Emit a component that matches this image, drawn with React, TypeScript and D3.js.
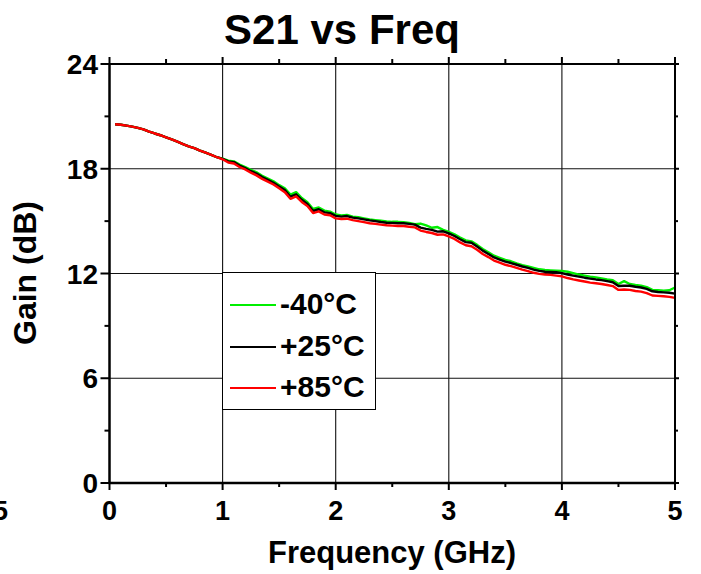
import * as d3 from 'd3';

const freqs = [
  0.05, 0.1, 0.15, 0.2, 0.25, 0.3, 0.35, 0.4, 0.45, 0.5,
  0.55, 0.6, 0.65, 0.7, 0.75, 0.8, 0.85, 0.9, 0.95, 1.0,
  1.05, 1.1, 1.15, 1.2, 1.25, 1.3, 1.35, 1.4, 1.45, 1.5,
  1.55, 1.6, 1.65, 1.7, 1.75, 1.8, 1.85, 1.9, 1.95, 2.0,
  2.05, 2.1, 2.15, 2.2, 2.25, 2.3, 2.35, 2.4, 2.45, 2.5,
  2.55, 2.6, 2.65, 2.7, 2.75, 2.8, 2.85, 2.9, 2.95, 3.0,
  3.05, 3.1, 3.15, 3.2, 3.25, 3.3, 3.35, 3.4, 3.45, 3.5,
  3.55, 3.6, 3.65, 3.7, 3.75, 3.8, 3.85, 3.9, 3.95, 4.0,
  4.05, 4.1, 4.15, 4.2, 4.25, 4.3, 4.35, 4.4, 4.45, 4.5,
  4.55, 4.6, 4.65, 4.7, 4.75, 4.8, 4.85, 4.9, 4.95, 5.0,
];

const gainM40 = [
  20.55, 20.52, 20.47, 20.41, 20.34, 20.26, 20.13, 20.02, 19.92, 19.8,
  19.68, 19.55, 19.41, 19.28, 19.18, 19.04, 18.92, 18.8, 18.66, 18.58,
  18.46, 18.42, 18.24, 18.1, 17.94, 17.8, 17.6, 17.44, 17.28, 17.06,
  16.88, 16.52, 16.66, 16.32, 16.08, 15.7, 15.78, 15.6, 15.54, 15.38,
  15.32, 15.36, 15.26, 15.22, 15.16, 15.1, 15.06, 15.02, 14.98, 14.96,
  14.96, 14.94, 14.9, 14.82, 14.86, 14.76, 14.62, 14.66, 14.5, 14.38,
  14.24, 14.06, 13.9, 13.84, 13.64, 13.4, 13.22, 13.02, 12.9, 12.78,
  12.7, 12.58, 12.48, 12.4, 12.32, 12.24, 12.2, 12.18, 12.16, 12.14,
  12.1, 12.02, 11.94, 11.88, 11.82, 11.78, 11.72, 11.66, 11.62, 11.4,
  11.56, 11.4, 11.34, 11.3, 11.22, 11.06, 11.04, 11.02, 11.04, 11.2,
];

const gain25 = [
  20.55, 20.52, 20.47, 20.41, 20.34, 20.26, 20.13, 20.02, 19.92, 19.8,
  19.68, 19.55, 19.41, 19.28, 19.18, 19.04, 18.92, 18.8, 18.66, 18.56,
  18.42, 18.38, 18.18, 18.04, 17.86, 17.72, 17.52, 17.36, 17.2, 16.98,
  16.78, 16.4, 16.54, 16.22, 15.98, 15.58, 15.68, 15.5, 15.46, 15.3,
  15.26, 15.29, 15.2, 15.16, 15.1, 15.04, 15.0, 14.95, 14.91, 14.9,
  14.88, 14.88, 14.84, 14.8, 14.63, 14.56, 14.5, 14.4, 14.42, 14.3,
  14.15, 13.96, 13.8, 13.76, 13.55, 13.31, 13.12, 12.92, 12.8, 12.68,
  12.6, 12.5, 12.4, 12.32, 12.22, 12.15, 12.1, 12.09, 12.07, 12.02,
  11.94, 11.88, 11.82, 11.76, 11.71, 11.66, 11.62, 11.56, 11.5, 11.28,
  11.3, 11.3, 11.24, 11.2, 11.12, 10.98, 10.94, 10.92, 10.9, 10.85,
];

const gain85 = [
  20.55, 20.52, 20.47, 20.41, 20.34, 20.26, 20.13, 20.02, 19.92, 19.8,
  19.68, 19.55, 19.41, 19.28, 19.18, 19.04, 18.92, 18.8, 18.66, 18.54,
  18.36, 18.3, 18.1, 17.96, 17.78, 17.62, 17.42, 17.26, 17.1, 16.88,
  16.66, 16.28, 16.42, 16.1, 15.86, 15.46, 15.56, 15.38, 15.34, 15.16,
  15.12, 15.14, 15.06, 15.0, 14.94, 14.88, 14.84, 14.8, 14.76, 14.74,
  14.72, 14.72, 14.68, 14.64, 14.46, 14.38, 14.32, 14.22, 14.24, 14.12,
  13.98, 13.78, 13.62, 13.56, 13.36, 13.12, 12.94, 12.74, 12.62, 12.5,
  12.42, 12.32, 12.22, 12.14, 12.04, 11.98, 11.94, 11.92, 11.88, 11.84,
  11.74, 11.66, 11.6, 11.54, 11.48, 11.44, 11.4, 11.34, 11.28, 11.06,
  11.08, 11.06, 11.0, 10.96, 10.88, 10.74, 10.72, 10.7, 10.66, 10.6,
];

const seriesNames = ['-40°C', '+25°C', '+85°C'];
const seriesColors = ['#00ee00', '#000000', '#ff0000'];
const seriesValues = [gainM40, gain25, gain85];

const xTicks = [0, 1, 2, 3, 4, 5];
const xMinor = [0.5, 1.5, 2.5, 3.5, 4.5];
const yTicks = [0, 6, 12, 18, 24];
const yMinor = [3, 9, 15, 21];

const W = 701;
const H = 574;
const FONT = '"Liberation Sans", Arial, sans-serif';

export default function App() {
  const x = d3.scaleLinear().domain([0, 5]).range([109.5, 675]);
  const y = d3.scaleLinear().domain([0, 24]).range([483, 64]);
  const [x0, x1] = x.range();
  const [y0, y1] = y.range();

  const line = d3.line<number>()
    .x((_, i) => x(freqs[i]))
    .y(d => y(d));

  // legend box
  const lg = { left: 222.5, top: 272.5, right: 375.5, bottom: 409.5 };
  const legendRows = [305, 347, 388];

  return (
    <svg
      width={W}
      height={H}
      style={{ position: 'absolute', left: 0, top: 0, display: 'block', background: '#fff' }}
      fontFamily={FONT}
    >
      <rect width={W} height={H} fill="#fff" />

      {/* grid */}
      {xTicks.slice(1, -1).map(t => (
        <line key={'gx' + t} x1={x(t)} x2={x(t)} y1={y0} y2={y1} stroke="#111" strokeWidth={1.1} />
      ))}
      {yTicks.slice(1, -1).map(t => (
        <line key={'gy' + t} x1={x0} x2={x1} y1={y(t)} y2={y(t)} stroke="#111" strokeWidth={1.1} />
      ))}

      {/* curves */}
      {seriesValues.map((vals, i) => (
        <path key={seriesNames[i]} d={line(vals) || ''} fill="none" stroke={seriesColors[i]}
          strokeWidth={2.4} strokeLinejoin="round" />
      ))}

      {/* frame */}
      <line x1={x0} x2={x0} y1={y0 + 1} y2={y1 - 1} stroke="#000" strokeWidth={2.5} />
      <line x1={x0 - 1} x2={x1 + 1} y1={y0} y2={y0} stroke="#000" strokeWidth={2.5} />
      <line x1={x1} x2={x1} y1={y0} y2={y1} stroke="#000" strokeWidth={2} />
      <line x1={x0} x2={x1} y1={y1} y2={y1} stroke="#000" strokeWidth={2} />

      {/* ticks */}
      {xTicks.map(t => (
        <g key={'tx' + t}>
          <line x1={x(t)} x2={x(t)} y1={y0} y2={y0 + 7} stroke="#000" strokeWidth={2} />
          <line x1={x(t)} x2={x(t)} y1={y1} y2={y1 - 7} stroke="#000" strokeWidth={2} />
        </g>
      ))}
      {xMinor.map(t => (
        <g key={'mx' + t}>
          <line x1={x(t)} x2={x(t)} y1={y0} y2={y0 + 4} stroke="#000" strokeWidth={2} />
          <line x1={x(t)} x2={x(t)} y1={y1} y2={y1 - 5} stroke="#000" strokeWidth={2} />
        </g>
      ))}
      {yTicks.map(t => (
        <g key={'ty' + t}>
          <line x1={x0} x2={x0 - 9} y1={y(t)} y2={y(t)} stroke="#000" strokeWidth={2} />
          <line x1={x1} x2={x1 + 4} y1={y(t)} y2={y(t)} stroke="#000" strokeWidth={2} />
        </g>
      ))}
      {yMinor.map(t => (
        <g key={'my' + t}>
          <line x1={x0} x2={x0 - 5} y1={y(t)} y2={y(t)} stroke="#000" strokeWidth={2} />
          <line x1={x1} x2={x1 + 3} y1={y(t)} y2={y(t)} stroke="#000" strokeWidth={2} />
        </g>
      ))}

      {/* tick labels */}
      {xTicks.map(t => (
        <text key={'lx' + t} x={x(t)} y={520} textAnchor="middle" fontSize={27} fontWeight="bold">{t}</text>
      ))}
      <text x={8} y={520} textAnchor="end" fontSize={27} fontWeight="bold">5</text>
      {yTicks.map(t => (
        <text key={'ly' + t} x={98} y={y(t) + 10} textAnchor="end" fontSize={28} fontWeight="bold">{t}</text>
      ))}

      {/* titles */}
      <text x={342} y={44} textAnchor="middle" fontSize={42} fontWeight="bold">S21 vs Freq</text>
      <text x={392} y={563} textAnchor="middle" fontSize={31} fontWeight="bold">Frequency (GHz)</text>
      <text transform={`translate(36,273) rotate(-90)`} textAnchor="middle" fontSize={32} fontWeight="bold">Gain (dB)</text>

      {/* legend */}
      <rect x={lg.left} y={lg.top} width={lg.right - lg.left} height={lg.bottom - lg.top}
        fill="#fff" stroke="#000" strokeWidth={1} />
      {seriesNames.map((name, i) => (
        <g key={'lg' + name}>
          <line x1={230} x2={276} y1={legendRows[i]} y2={legendRows[i]} stroke={seriesColors[i]} strokeWidth={1.8} />
          <text x={280} y={legendRows[i] + 9} fontSize={30} fontWeight="bold">{name}</text>
        </g>
      ))}
    </svg>
  );
}
